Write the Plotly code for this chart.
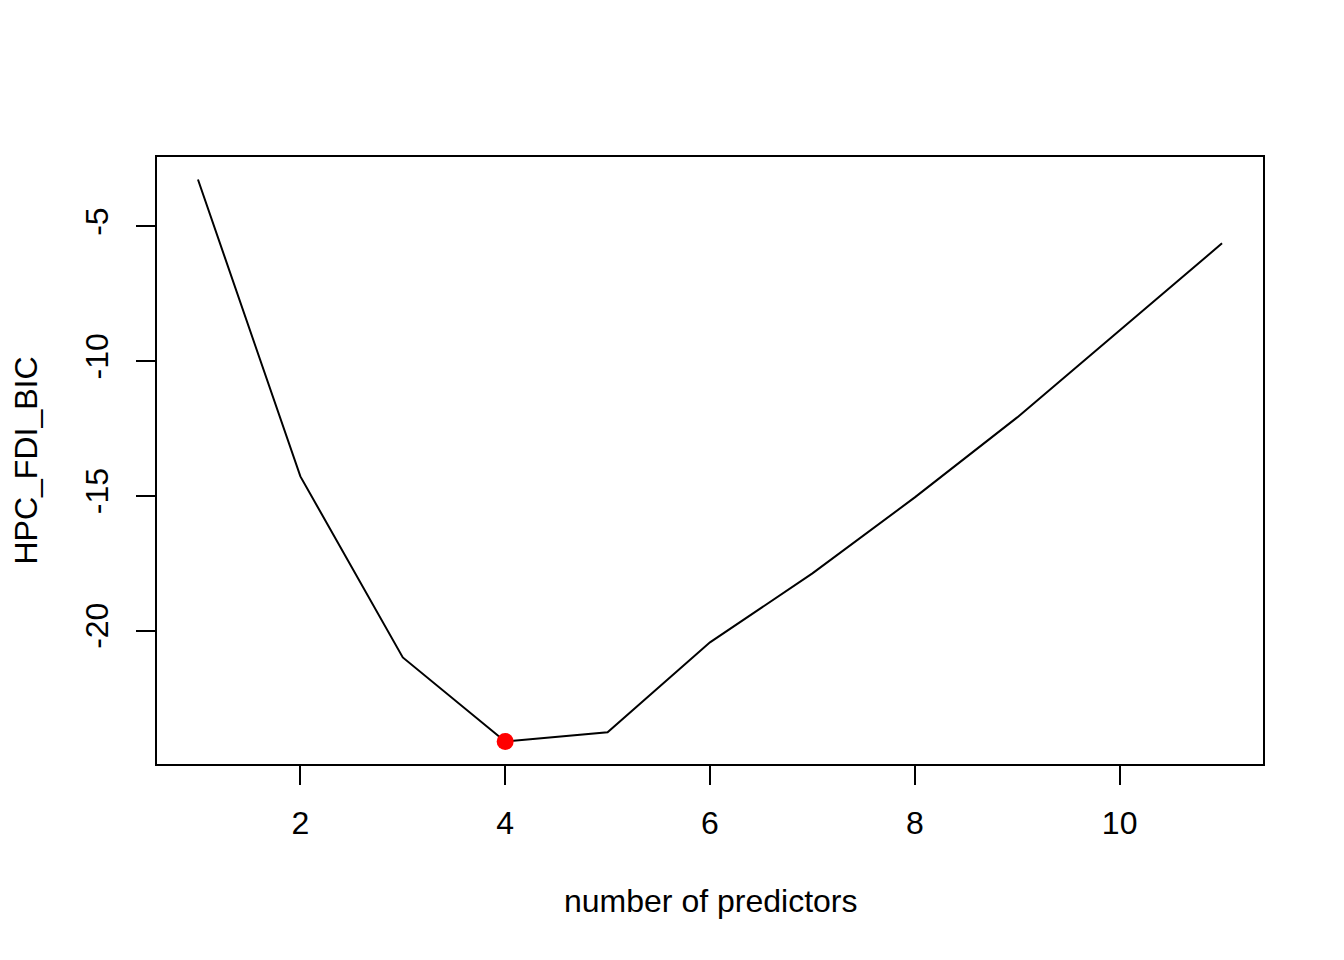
import plotly.graph_objects as go

n_predictors = [1, 2, 3, 4, 5, 6, 7, 8, 9, 10, 11]
bic_values = [-3.26, -14.28, -21.0, -24.12, -23.78, -20.44, -17.88, -15.06, -12.09, -8.86, -5.63]
x_ticks = [2, 4, 6, 8, 10]
y_ticks = [-20, -15, -10, -5]

def padded(vals):
    lo, hi = min(vals), max(vals)
    d = (hi - lo) * 0.04
    return [lo - d, hi + d]

imin = bic_values.index(min(bic_values))

FONT = "Liberation Sans, Arial, Helvetica, sans-serif"

fig = go.Figure()
fig.add_trace(go.Scatter(x=n_predictors, y=bic_values, mode="lines",
                         line=dict(color="black", width=2), showlegend=False))
fig.add_trace(go.Scatter(x=[n_predictors[imin]], y=[bic_values[imin]], mode="markers",
                         marker=dict(color="#FF0000", size=17), showlegend=False))

fig.update_layout(
    width=1344, height=960, autosize=False,
    margin=dict(l=149, r=89, t=149, b=204),
    paper_bgcolor="white", plot_bgcolor="white",
    font=dict(family=FONT, size=32, color="black"),
    xaxis=dict(range=padded(n_predictors), tickvals=x_ticks,
               ticktext=[str(v) for v in x_ticks], ticks="outside",
               ticklen=19, tickwidth=2, tickcolor="black",
               showline=True, linecolor="black", linewidth=2, mirror=True,
               showgrid=False, zeroline=False, ticklabelstandoff=11,
               automargin=False),
    yaxis=dict(range=padded(bic_values), tickvals=y_ticks,
               ticktext=[str(v) for v in y_ticks], ticks="outside",
               ticklen=19, tickwidth=2, tickcolor="black", tickangle=-90,
               showline=True, linecolor="black", linewidth=2, mirror=True,
               showgrid=False, zeroline=False, ticklabelstandoff=15,
               automargin=False),
    annotations=[
        dict(text="number of predictors", xref="paper", yref="paper", x=0.5, y=0,
             xanchor="center", yanchor="middle", yshift=-137, showarrow=False,
             font=dict(size=32)),
        dict(text="HPC_FDI_BIC", xref="paper", yref="paper", x=0, y=0.5,
             xanchor="center", yanchor="middle", xshift=-132, textangle=-90,
             showarrow=False, font=dict(size=32)),
    ],
)

fig.write_html("out.html")
